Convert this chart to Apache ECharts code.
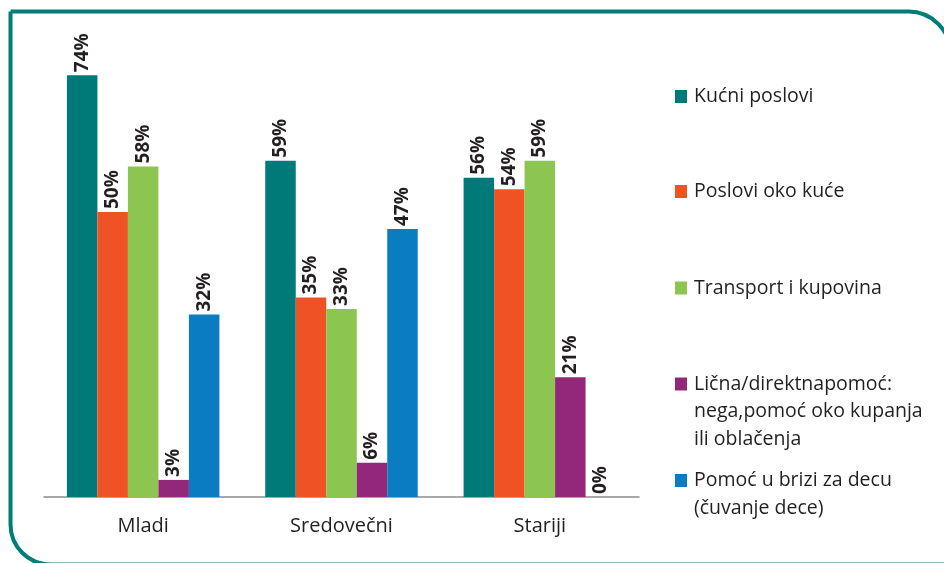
<!DOCTYPE html>
<html>
<head>
<meta charset="utf-8">
<script src="https://cdn.jsdelivr.net/npm/echarts@6/dist/echarts.min.js"></script>
<style>
  html, body { margin: 0; padding: 0; background: #fff; }
  #chart { width: 944px; height: 563px; }
</style>
</head>
<body>
<div id="chart"></div>
<script>
var categories = ['Mladi', 'Sredovečni', 'Stariji'];
var seriesNames = [
  'Kućni poslovi',
  'Poslovi oko kuće',
  'Transport i kupovina',
  'Lična/direktnapomoć:\nnega,pomoć oko kupanja\nili oblačenja',
  'Pomoć u brizi za decu\n(čuvanje dece)'
];
var kucniPoslovi = [74, 59, 56];
var posloviOkoKuce = [50, 35, 54];
var transportKupovina = [58, 33, 59];
var licnaPomoc = [3, 6, 21];
var brigaZaDecu = [32, 47, 0];
var colors = ['#007a78', '#f05323', '#8cc550', '#93287b', '#0a7cc2'];

var values = [kucniPoslovi, posloviOkoKuce, transportKupovina, licnaPomoc, brigaZaDecu];
var legendCenters = [96.5, 191.5, 288, 384, 480.5];
var LH = 27.5;
var font = 'Open Sans';

var chart = echarts.init(document.getElementById('chart'));

var series = [];
var legends = [];
for (var i = 0; i < seriesNames.length; i++) {
  series.push({
    name: seriesNames[i],
    type: 'bar',
    data: values[i],
    barWidth: 30.5,
    barGap: '0%',
    itemStyle: { color: colors[i] },
    label: {
      show: true,
      position: 'top',
      distance: 3,
      rotate: 90,
      align: 'left',
      verticalAlign: 'middle',
      formatter: '{c}%',
      color: '#231f20',
      fontFamily: font,
      fontWeight: 'bold',
      fontSize: 19
    }
  });
  // one legend per item; blank lines above push the first line level with the icon
  var n = seriesNames[i].split('\n').length;
  legends.push({
    orient: 'vertical',
    left: 675,
    top: legendCenters[i] - (2 * n - 1) * LH / 2,
    padding: 0,
    itemWidth: 12,
    itemHeight: 13,
    itemGap: 0,
    icon: 'rect',
    selectedMode: false,
    formatter: (function (k) {
      return function (name) { return new Array(k).join('\n') + name; };
    })(n),
    textStyle: {
      fontFamily: font, fontSize: 19.5, color: '#231f20', lineHeight: LH,
      padding: [0, 0, 0, 2]
    },
    data: [seriesNames[i]]
  });
}

var option = {
  animation: false,
  backgroundColor: '#fff',
  grid: { left: 44, right: 305, top: 41, bottom: 66 },
  legend: legends,
  xAxis: {
    type: 'category',
    data: categories,
    axisLine: { lineStyle: { color: '#8c8c8c', width: 1.5 } },
    axisTick: { length: 8, lineStyle: { color: '#8c8c8c', width: 1.5 } },
    axisLabel: { margin: 19, fontFamily: font, fontSize: 20, color: '#231f20' }
  },
  yAxis: { type: 'value', min: 0, max: 80, show: false },
  series: series,
  graphic: [{
    type: 'rect',
    silent: true,
    shape: { x: 10.5, y: 11.5, width: 940, height: 553, r: [0, 42, 0, 40] },
    style: { fill: 'none', stroke: '#007c79', lineWidth: 4 }
  }]
};

chart.setOption(option);
</script>
</body>
</html>
